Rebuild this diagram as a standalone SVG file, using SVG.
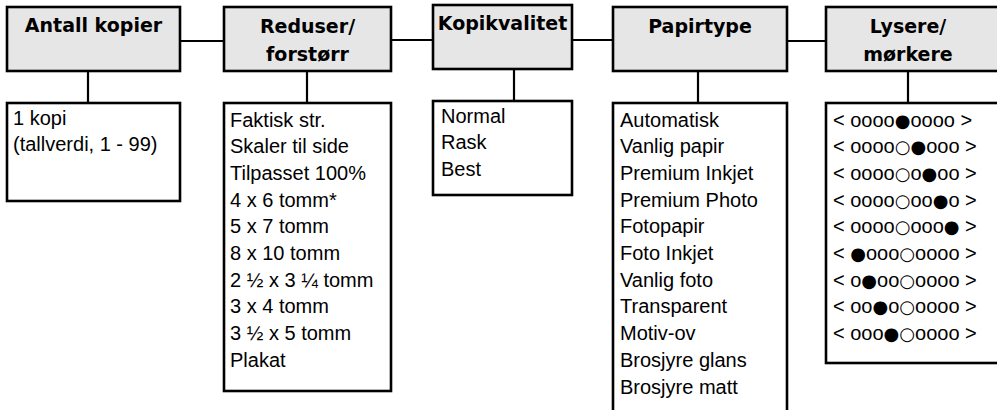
<svg xmlns="http://www.w3.org/2000/svg" width="997" height="410" viewBox="0 0 997 410">
  <style>
    .head { fill: #e6e6e6; stroke: #000; stroke-width: 2.6; }
    .list { fill: #fff; stroke: #000; stroke-width: 2.6; }
    .ht { font-family: "DejaVu Sans", sans-serif; font-weight: bold; font-size: 19px; fill: #000; text-anchor: middle; }
    .lt { font-family: "Liberation Sans", sans-serif; font-size: 20px; fill: #000; }
    .c { font-family: "DejaVu Sans", sans-serif; font-size: 18px; }
    .conn line { stroke: #000; stroke-width: 2.2; }
  </style>
  <rect width="997" height="410" fill="#fff"/>

  <!-- connectors -->
  <g id="connectors" class="conn">
    <line x1="180" y1="41" x2="224" y2="41"/>
    <line x1="391" y1="40" x2="433" y2="40"/>
    <line x1="572" y1="40" x2="613" y2="40"/>
    <line x1="787" y1="41" x2="826" y2="41"/>
    <line x1="88" y1="71" x2="88" y2="103"/>
    <line x1="307" y1="71" x2="307" y2="103"/>
    <line x1="514" y1="69" x2="514" y2="101"/>
    <line x1="698" y1="71" x2="698" y2="103"/>
    <line x1="908" y1="71" x2="908" y2="103"/>
  </g>

  <!-- menu headers -->
  <g id="antall-kopier">
    <rect class="head" x="7" y="7" width="173" height="64"/>
    <text class="ht" x="93.5" y="32">Antall kopier</text>
  </g>
  <g id="reduser-forstorr">
    <rect class="head" x="224" y="7" width="167" height="64"/>
    <text class="ht" x="307.5" y="33">Reduser/</text>
    <text class="ht" x="307.5" y="61">forstørr</text>
  </g>
  <g id="kopikvalitet">
    <rect class="head" x="433" y="5" width="139" height="64"/>
    <text class="ht" x="502.5" y="30">Kopikvalitet</text>
  </g>
  <g id="papirtype">
    <rect class="head" x="613" y="7" width="174" height="64"/>
    <text class="ht" x="700" y="33">Papirtype</text>
  </g>
  <g id="lysere-morkere">
    <rect class="head" x="826" y="7" width="180" height="64"/>
    <text class="ht" x="908" y="33">Lysere/</text>
    <text class="ht" x="908" y="61">mørkere</text>
  </g>

  <!-- option lists -->
  <g id="antall-kopier-valg">
    <rect class="list" x="7" y="103" width="173" height="98"/>
    <text class="lt" x="13" y="125">1 kopi</text>
    <text class="lt" x="13" y="151">(tallverdi, 1 - 99)</text>
  </g>
  <g id="reduser-forstorr-valg">
    <rect class="list" x="224" y="103" width="167" height="288"/>
    <text class="lt" x="230" y="126.5">Faktisk str.</text>
    <text class="lt" x="230" y="153.2">Skaler til side</text>
    <text class="lt" x="230" y="179.9">Tilpasset 100%</text>
    <text class="lt" x="230" y="206.6">4 x 6 tomm*</text>
    <text class="lt" x="230" y="233.3">5 x 7 tomm</text>
    <text class="lt" x="230" y="260">8 x 10 tomm</text>
    <text class="lt" x="230" y="286.7">2 ½ x 3 ¼ tomm</text>
    <text class="lt" x="230" y="313.4">3 x 4 tomm</text>
    <text class="lt" x="230" y="340.1">3 ½ x 5 tomm</text>
    <text class="lt" x="230" y="366.8">Plakat</text>
  </g>
  <g id="kopikvalitet-valg">
    <rect class="list" x="433" y="101" width="139" height="94"/>
    <text class="lt" x="441" y="122.5">Normal</text>
    <text class="lt" x="441" y="149.2">Rask</text>
    <text class="lt" x="441" y="175.9">Best</text>
  </g>
  <g id="papirtype-valg">
    <rect class="list" x="613" y="103" width="174" height="320"/>
    <text class="lt" x="620" y="126.5">Automatisk</text>
    <text class="lt" x="620" y="153.2">Vanlig papir</text>
    <text class="lt" x="620" y="179.9">Premium Inkjet</text>
    <text class="lt" x="620" y="206.6">Premium Photo</text>
    <text class="lt" x="620" y="233.3">Fotopapir</text>
    <text class="lt" x="620" y="260">Foto Inkjet</text>
    <text class="lt" x="620" y="286.7">Vanlig foto</text>
    <text class="lt" x="620" y="313.4">Transparent</text>
    <text class="lt" x="620" y="340.1">Motiv-ov</text>
    <text class="lt" x="620" y="366.8">Brosjyre glans</text>
    <text class="lt" x="620" y="393.5">Brosjyre matt</text>
  </g>
  <g id="lysere-morkere-valg">
    <rect class="list" x="826" y="103" width="180" height="260"/>
    <text class="lt" x="833" y="126.5">&lt; oooo<tspan class="c">●</tspan>oooo &gt;</text>
    <text class="lt" x="833" y="153.2">&lt; oooo<tspan class="c">○●</tspan>ooo &gt;</text>
    <text class="lt" x="833" y="179.9">&lt; oooo<tspan class="c">○</tspan>o<tspan class="c">●</tspan>oo &gt;</text>
    <text class="lt" x="833" y="206.6">&lt; oooo<tspan class="c">○</tspan>oo<tspan class="c">●</tspan>o &gt;</text>
    <text class="lt" x="833" y="233.3">&lt; oooo<tspan class="c">○</tspan>ooo<tspan class="c">●</tspan> &gt;</text>
    <text class="lt" x="833" y="260">&lt; <tspan class="c">●</tspan>ooo<tspan class="c">○</tspan>oooo &gt;</text>
    <text class="lt" x="833" y="286.7">&lt; o<tspan class="c">●</tspan>oo<tspan class="c">○</tspan>oooo &gt;</text>
    <text class="lt" x="833" y="313.4">&lt; oo<tspan class="c">●</tspan>o<tspan class="c">○</tspan>oooo &gt;</text>
    <text class="lt" x="833" y="340.1">&lt; ooo<tspan class="c">●○</tspan>oooo &gt;</text>
  </g>
</svg>
